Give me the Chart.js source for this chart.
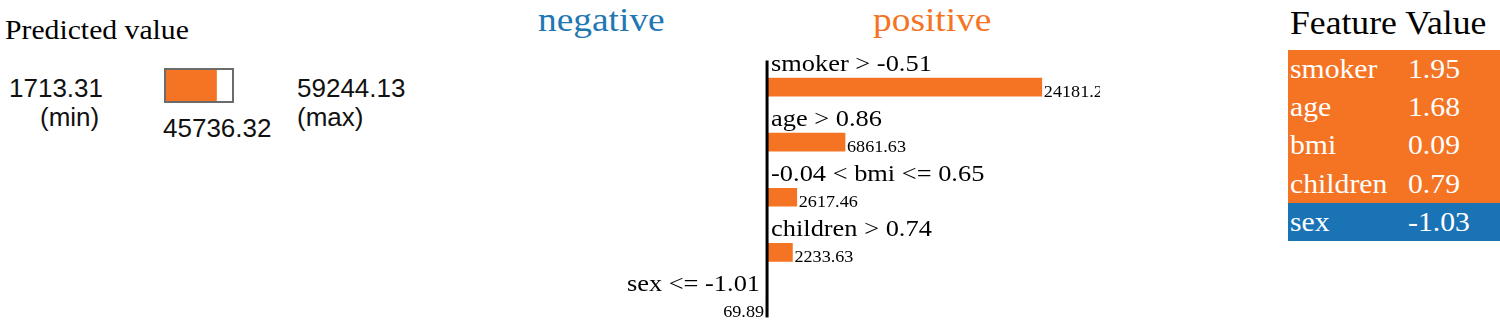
<!DOCTYPE html>
<html>
<head>
<meta charset="utf-8">
<script src="https://cdn.jsdelivr.net/npm/chart.js@4"></script>
<style>
  html, body { margin: 0; padding: 0; background: #fff; overflow: hidden; }
  body { width: 1500px; height: 322px; position: relative; font-family: "Liberation Serif", serif; color: #000; }
  .abs { position: absolute; white-space: nowrap; }
  .st { display: inline-block; transform: scaleX(1.1); transform-origin: left top; }
  .sans { font-family: "Liberation Sans", Arial, sans-serif; font-size: 26px; color: #111; line-height: 1; }
  #predBox { position: absolute; left: 164px; top: 68px; width: 66px; height: 31px; border: 2px solid #6b6b6b; }
  #predBox canvas { display: block; }
  #featTable { position: absolute; left: 1288px; top: 50px; width: 212px; }
  .row { height: 38.2px; position: relative; color: #fff; font-size: 27px; line-height: 1; }
  .row span { position: absolute; top: 6px; }
</style>
</head>
<body>
<div class="abs" style="left:5px; top:17px; font-size:27px; line-height:1;"><span class="st">Predicted value</span></div>
<div class="abs sans" style="left:9px; top:75px;"><span id="minText"></span></div>
<div class="abs sans" style="left:40px; top:104px;">(min)</div>
<div class="abs sans" style="left:297px; top:75px;"><span id="maxText"></span></div>
<div class="abs sans" style="left:297px; top:104px;">(max)</div>
<div class="abs sans" style="left:163px; top:115px;"><span id="predText"></span></div>
<div id="predBox"><canvas id="predChart" width="66" height="31"></canvas></div>

<div class="abs" style="left:538px; top:3px; font-size:34px; line-height:1; color:#1f77b4;"><span class="st">negative</span></div>
<div class="abs" style="left:873px; top:3px; font-size:34px; line-height:1; color:#f47424;"><span class="st">positive</span></div>

<canvas id="limeChart" class="abs" style="left:600px; top:35px;" width="500" height="300"></canvas>

<div class="abs" style="left:1290px; top:7px; font-size:33px; line-height:1;"><span class="st" style="transform:scaleX(1.08)">Feature Value</span></div>
<div id="featTable"></div>

<script>
// prediction range
const predMin = 1713.31;
const predMax = 59244.13;
const predValue = 45736.32;

// explanation bars
const features = ['smoker > -0.51', 'age > 0.86', '-0.04 < bmi <= 0.65', 'children > 0.74', 'sex <= -1.01'];
const weights = [24181.23, 6861.63, 2617.46, 2233.63, -69.89];

// feature value table
const tableNames = ['smoker', 'age', 'bmi', 'children', 'sex'];
const tableValues = [1.95, 1.68, 0.09, 0.79, -1.03];

const ORANGE = '#f47424';
const BLUE = '#1a73b5';
const SX = 1.1;

document.getElementById('minText').textContent = predMin.toFixed(2);
document.getElementById('maxText').textContent = predMax.toFixed(2);
document.getElementById('predText').textContent = predValue.toFixed(2);

// table
const table = document.getElementById('featTable');
tableNames.forEach((name, i) => {
  const div = document.createElement('div');
  div.className = 'row';
  div.style.background = tableValues[i] >= 0 ? ORANGE : BLUE;
  div.innerHTML = `<span class="st" style="left:2px">${name}</span>` +
    `<span class="st" style="left:120px">${tableValues[i].toFixed(2)}</span>`;
  table.appendChild(div);
});

// predicted value bar
new Chart(document.getElementById('predChart'), {
  type: 'bar',
  data: {
    labels: ['value'],
    datasets: [{ data: [predValue], backgroundColor: ORANGE, barPercentage: 1, categoryPercentage: 1 }]
  },
  options: {
    indexAxis: 'y',
    responsive: false,
    animation: false,
    layout: { padding: 0 },
    plugins: { legend: { display: false }, tooltip: { enabled: false } },
    scales: {
      x: { display: false, min: predMin, max: predMax },
      y: { display: false }
    }
  }
});

function drawStretched(ctx, text, x, y, align, font) {
  ctx.save();
  ctx.translate(x, y);
  ctx.scale(SX, 1);
  ctx.font = font;
  ctx.fillStyle = '#000';
  ctx.textAlign = align;
  ctx.textBaseline = 'alphabetic';
  ctx.fillText(text, 0, 0);
  ctx.restore();
}

const limeLabels = {
  id: 'limeLabels',
  afterDatasetsDraw(chart) {
    const ctx = chart.ctx;
    const meta = chart.getDatasetMeta(0);
    const x0 = chart.scales.x.getPixelForValue(0);
    const last = meta.data[meta.data.length - 1];
    ctx.save();
    ctx.fillStyle = '#000';
    ctx.fillRect(x0 - 1.5, chart.chartArea.top + 1, 3, last.y + 9 - chart.chartArea.top);
    ctx.restore();
    meta.data.forEach((bar, i) => {
      const v = weights[i];
      const pos = v >= 0;
      drawStretched(ctx, features[i], pos ? x0 + 4 : x0 - 7, bar.y - 16,
        pos ? 'left' : 'right', '24px "Liberation Serif"');
      drawStretched(ctx, Math.abs(v).toFixed(2), pos ? bar.x + 2 : x0 - 3, bar.y + 10,
        pos ? 'left' : 'right', '16.5px "Liberation Serif"');
    });
  }
};

new Chart(document.getElementById('limeChart'), {
  type: 'bar',
  data: {
    labels: features,
    datasets: [{
      data: weights,
      backgroundColor: weights.map(v => v >= 0 ? ORANGE : BLUE),
      barThickness: 18
    }]
  },
  options: {
    indexAxis: 'y',
    responsive: false,
    animation: false,
    layout: { padding: { top: 24.5, left: 0, right: 0, bottom: 0 } },
    plugins: { legend: { display: false }, tooltip: { enabled: false } },
    scales: {
      x: { display: false, min: -14700, max: 29300 },
      y: { display: false }
    }
  },
  plugins: [limeLabels]
});
</script>
</body>
</html>
